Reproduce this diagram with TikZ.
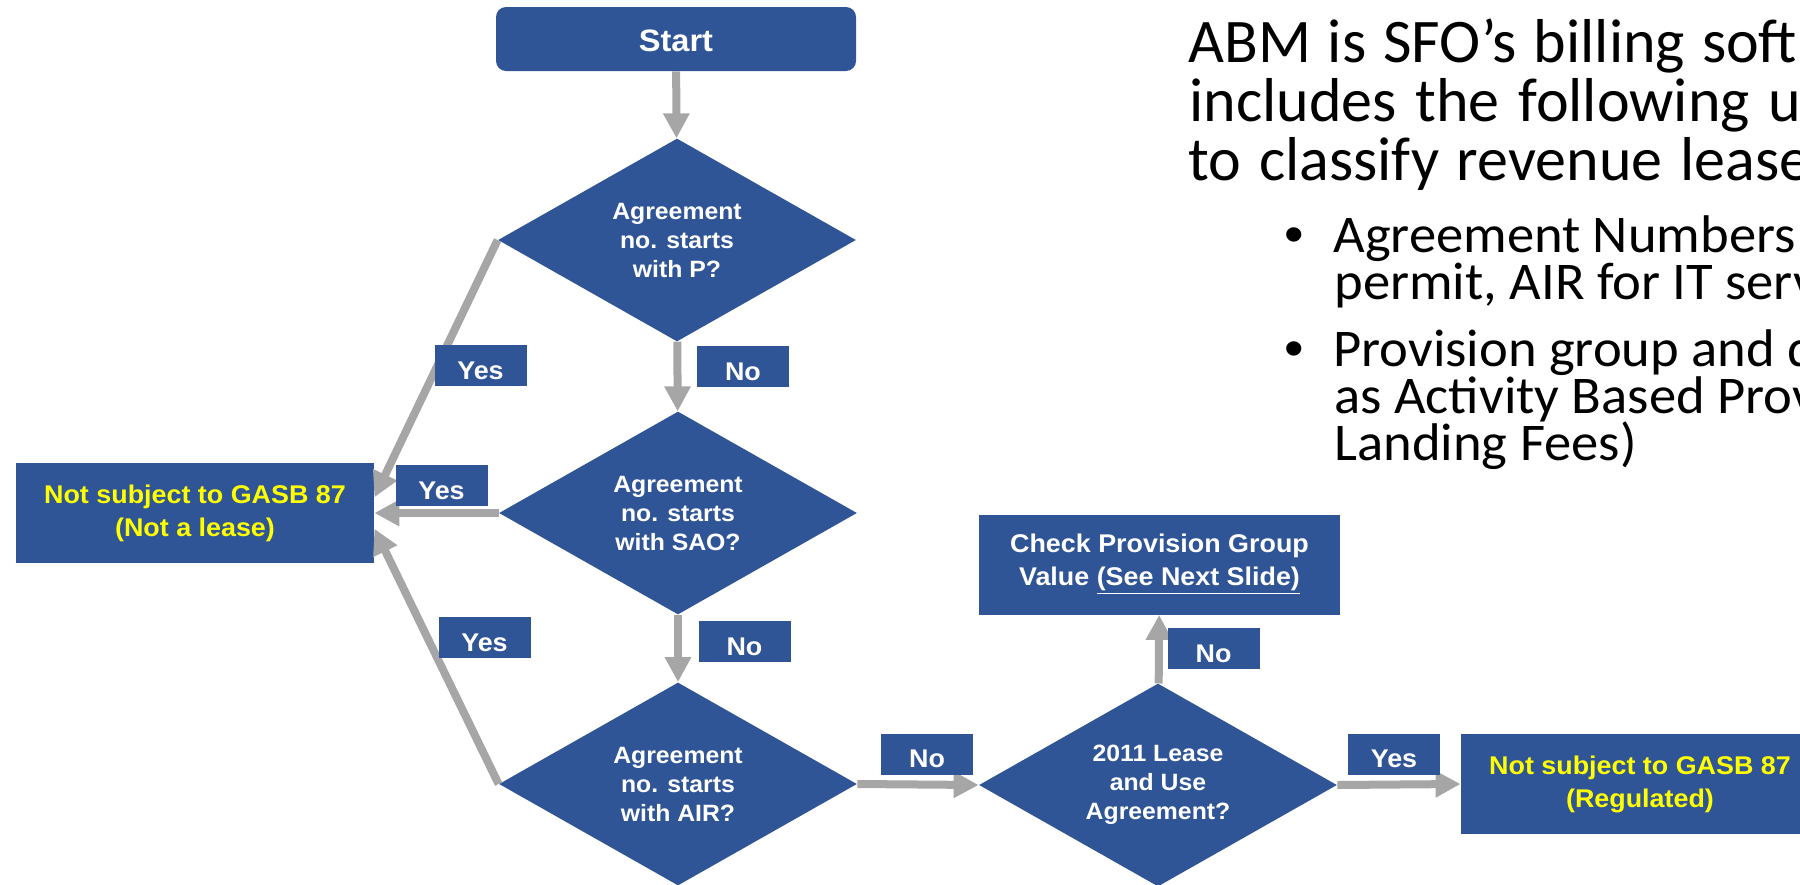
\documentclass[tikz,border=0pt]{standalone}
\usepackage{fontspec}
\setmainfont{Liberation Sans}[FakeStretch=1.05]
\newfontfamily\slidefont{Carlito}
\newfontfamily\pointfont{Carlito}[FakeStretch=1.03]
\usetikzlibrary{shapes.geometric,arrows.meta}
\definecolor{boxblue}{RGB}{47,85,151}
\definecolor{flowgray}{RGB}{166,166,166}
\definecolor{hiyellow}{RGB}{255,255,0}

\begin{document}
\begin{tikzpicture}[x=0.5pt,y=-0.5pt,
	blk/.style={fill=boxblue,inner sep=0,minimum width=179pt,minimum height=50pt,align=center,font=\bfseries\fontsize{12.8}{16.5}\selectfont},
	dec/.style={diamond,fill=boxblue,aspect=1.76,inner sep=0,minimum width=179pt,minimum height=101.5pt,align=center,text=white,font=\bfseries\fontsize{11.8}{14.5}\selectfont},
	lbl/.style={fill=boxblue,text=white,inner sep=0,minimum width=46pt,minimum height=20.5pt,text height=13.5pt,text depth=0pt,font=\bfseries\fontsize{12.8}{14}\selectfont},
	flow/.style={color=flowgray,line width=4pt,-{Triangle[length=12.5pt,width=12.5pt]}},
	slide/.style={inner sep=0,anchor=base west,font=\slidefont\fontsize{31}{29}\selectfont},
	bullet/.style={inner sep=0,anchor=base west,font=\pointfont\fontsize{26.5}{23}\selectfont}]
		\useasboundingbox (0,0) rectangle (1800,884);
		% flowchart boxes
		\node[blk,rounded corners=5pt,minimum width=180pt,minimum height=32pt,text height=12pt,text depth=0pt,text=white,font=\bfseries\fontsize{15.5}{18}\selectfont] (start) at (676,39) {Start};
		\node[dec] (qp) at (677,240) {Agreement\\no. starts\\with P?};
		\node[dec] (qsao) at (678,513) {Agreement\\no. starts\\with SAO?};
		\node[dec] (qair) at (678,784) {Agreement\\no. starts\\with AIR?};
		\node[dec] (qlua) at (1158,785) {2011 Lease\\and Use\\Agreement?};
		\node[blk,text=hiyellow] (notlease) at (195,513) {Not subject to GASB 87\\(Not a lease)};
		\node[blk,text=hiyellow] (regulated) at (1640,784) {Not subject to GASB 87\\(Regulated)};
		\node[blk,text=white,minimum width=180.5pt] (provgrp) at (1159.5,564.5) {Check Provision Group\\Value \underline{(See Next Slide)}};
		% connectors
		\draw[flow] (start) -- (qp);
		\draw[flow] (qp) -- (qsao);
		\draw[flow] (qsao) -- (qair);
		\draw[flow] (qp.west) -- (notlease.5);
		\draw[flow] (qsao.west) -- (notlease.east);
		\draw[flow] (qair.west) -- (notlease.-5);
		\draw[flow] (qair.east) -- (qlua.west);
		\draw[flow] (qlua) -- (provgrp);
		\draw[flow] (qlua.east) -- (regulated.west);
		% yes / no tags
		\node[lbl] (yesp) at (480.5,365.5) {Yes};
		\node[lbl] (nop) at (743,366.5) {No};
		\node[lbl] (yessao) at (441.5,485.5) {Yes};
		\node[lbl] (yesair) at (484.5,637.5) {Yes};
		\node[lbl] (nosao) at (744.5,641.5) {No};
		\node[lbl] (noair) at (927,754) {No};
		\node[lbl] (nolua) at (1213.5,648.5) {No};
		\node[lbl] (yeslua) at (1394,754) {Yes};
		% slide text on the right
		\node[slide] (titlea) at (1188,62.7) {\makebox[304.5pt][s]{ABM is SFO’s billing soft}};
		\node[slide] (titleb) at (1189,121.7) {\makebox[306pt][s]{includes the following u}};
		\node[slide] (titlec) at (1188,180) {\makebox[311pt][s]{to classify revenue lease}};
		\node[inner sep=0,anchor=base,font=\fontsize{26.5}{23}\selectfont] (dota) at (1294.5,252.7) {•};
		\node[inner sep=0,anchor=base,font=\fontsize{26.5}{23}\selectfont] (dotb) at (1294.5,366.7) {•};
		\node[bullet] (itema) at (1333,252.7) {Agreement Numbers};
		\node[bullet] (itemb) at (1334,299) {permit, AIR for IT serv};
		\node[bullet] (itemc) at (1333,366.7) {Provision group and d};
		\node[bullet] (itemd) at (1334,413) {as Activity Based Prov};
		\node[bullet] (iteme) at (1334,460) {Landing Fees)};
\end{tikzpicture}
\end{document}
